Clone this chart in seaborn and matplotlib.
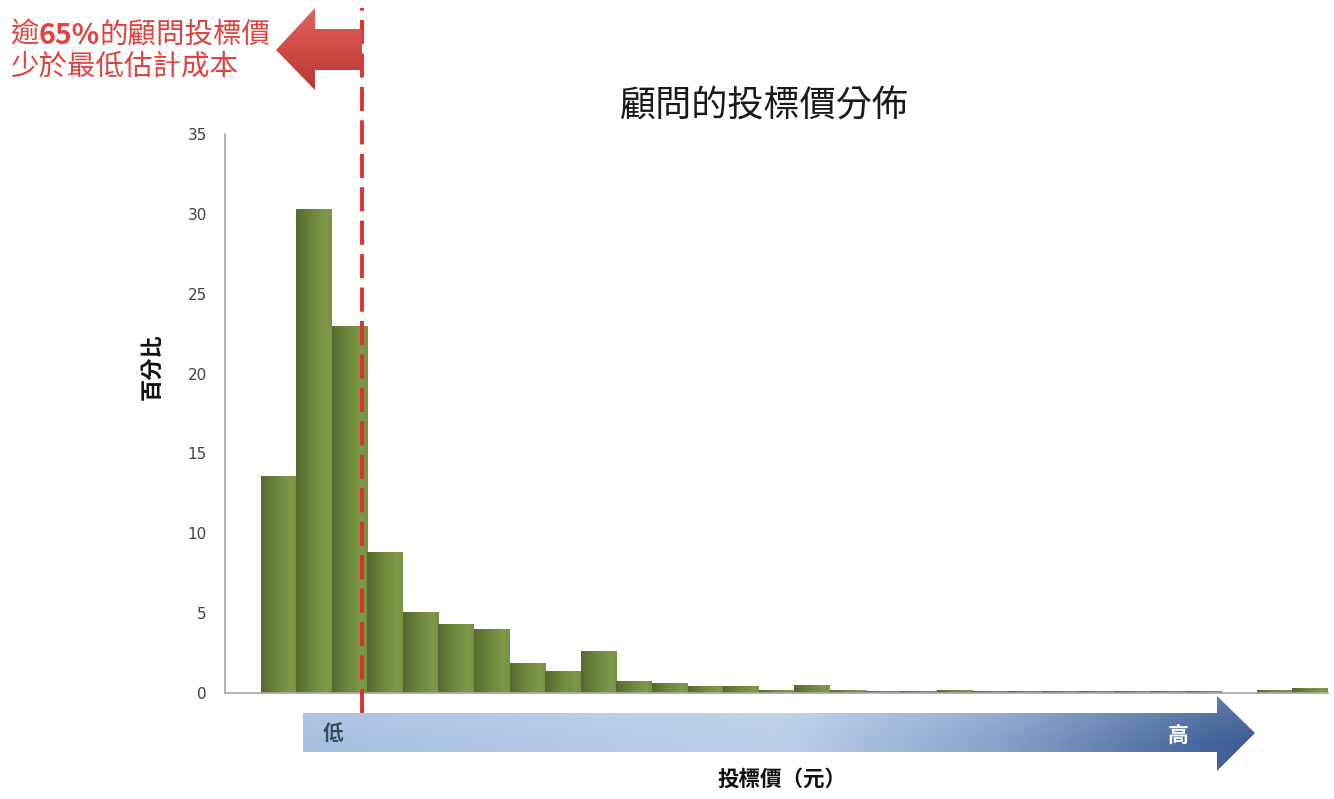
import numpy as np
import pandas as pd
import matplotlib
matplotlib.use("Agg")
import matplotlib.pyplot as plt
import seaborn as sns
from matplotlib.patches import Polygon
from matplotlib.colors import LinearSegmentedColormap
import matplotlib.transforms as mtransforms

# percent of consultants per bid-price bin (x axis has no price labels)
price_bin = list(range(31))
percent = [0, 13.6, 30.3, 23.0, 8.8, 5.1, 4.3, 4.0, 1.9, 1.35, 2.6,
           0.77, 0.6, 0.46, 0.46, 0.19, 0.48, 0.19, 0.1, 0.1, 0.19,
           0.1, 0.1, 0.1, 0.1, 0.1, 0.1, 0.1, 0, 0.2, 0.3]
y_ticks = [0, 5, 10, 15, 20, 25, 30, 35]
cutoff_bin = 3.35   # lowest estimated cost, in bin units

title = "顧問的投標價分佈"
note_parts = ["逾", "65%", "的顧問投標價"]
note_line2 = "少於最低估計成本"
low_txt, high_txt = "低", "高"

sns.set_style("white")
plt.rcParams["font.family"] = ["Noto Sans CJK TC", "DejaVu Sans"]

W, H = 1334, 799
fig = plt.figure(figsize=(W / 100, H / 100), dpi=100)
ax = fig.add_axes([225 / W, 106 / H, 1103 / W, 559 / H])

df = pd.DataFrame({"bin": price_bin, "percent": percent})
sns.barplot(data=df, x="bin", y="percent", color="#6c873b", width=1,
            errorbar=None, linewidth=0, ax=ax)

# green gradient inside each bar
bar_cmap = LinearSegmentedColormap.from_list(
    "bar", [(0, "#56692e"), (0.5, "#708b3f"), (0.85, "#7c9848"), (1, "#77923f")])
grad = np.linspace(0, 1, 64).reshape(1, -1)
for p in ax.patches:
    h = p.get_height()
    if h <= 0:
        continue
    x0 = p.get_x()
    p.set_zorder(2)
    im = ax.imshow(grad, cmap=bar_cmap, aspect="auto", zorder=2.5,
                   extent=[x0, x0 + p.get_width(), 0, h])
    im.set_clip_path(p)

ax.set_xlim(-0.5, len(price_bin) - 0.5)
ax.set_ylim(0, 35)
ax.set_yticks(y_ticks)
ax.set_xticks([])
ax.tick_params(axis="y", direction="out", length=6, width=1, color="#a6a6a6",
               labelcolor="#404040", labelsize=11, pad=7)
for lab in ax.get_yticklabels():
    lab.set_fontfamily("DejaVu Sans")
sns.despine(ax=ax)
for s in ["left", "bottom"]:
    ax.spines[s].set_color("#a6a6a6")
    ax.spines[s].set_linewidth(1.2)
    ax.spines[s].set_zorder(3)

ax.set_ylabel("百分比", fontsize=16, fontweight="bold", color="#111111")
ax.yaxis.set_label_coords(-0.056, 0.583)
ax.set_xlabel("投標價（元）", fontsize=15.5, fontweight="bold", color="#111111")
ax.xaxis.set_label_coords(0.505, -0.135)

# red dashed line for the lowest estimated cost
trans = mtransforms.blended_transform_factory(ax.transData, ax.transAxes)
ax.plot([cutoff_bin, cutoff_bin], [-0.036, 1.225], transform=trans,
        color="#e0302a", lw=2.8, dashes=(6.2, 2.4), clip_on=False, zorder=4)

# overlay in pixel coordinates for the arrows and notes
ov = fig.add_axes([0, 0, 1, 1], zorder=5)
ov.set_xlim(0, W)
ov.set_ylim(H, 0)
ov.axis("off")


def grad_poly(pts, colors, extent, horizontal=True, n=300):
    cmap = LinearSegmentedColormap.from_list("g", colors)
    t = np.linspace(0, 1, n)
    rgb = cmap(t)[:, :3]
    if horizontal:
        img = np.tile(rgb[None, :, :], (60, 1, 1))
        v = np.clip(np.linspace(0.16, -0.1, 60), 0, None)[:, None, None]
        img = img + (1 - img) * v
    else:
        img = np.tile(rgb[:, None, :], (1, 60, 1))
    poly = Polygon(pts, closed=True, facecolor="none", edgecolor="none")
    ov.add_patch(poly)
    im = ov.imshow(img, extent=extent, aspect="auto", interpolation="bilinear")
    im.set_clip_path(poly)


# blue low -> high arrow
blue_pts = [(303, 713), (1217, 713), (1217, 696), (1255, 733),
            (1217, 771), (1217, 752), (303, 752)]
grad_poly(blue_pts, [(0, "#a6bedf"), (0.5, "#bccfe9"), (0.73, "#88a3ca"),
                     (0.96, "#42649a"), (1, "#3d5e94")],
          [303, 1255, 771, 696])
ov.text(333, 734, low_txt, ha="center", va="center", fontsize=15,
        fontweight="bold", color="#3b4b5e")
ov.text(1178, 735, high_txt, ha="center", va="center", fontsize=15,
        fontweight="bold", color="white")

# red left arrow
red_pts = [(276, 50), (315, 8), (315, 29), (362, 29), (362, 70),
           (315, 70), (315, 90)]
grad_poly(red_pts, [(0, "#df6562"), (0.4, "#d34f4c"), (1, "#b83835")],
          [276, 362, 90, 8], horizontal=False)

# red note text
note_kw = dict(fontsize=20.5, color="#e2423d")
t1 = ov.text(10, 35, note_parts[0], ha="left", va="center", **note_kw)
t2 = ov.annotate(note_parts[1], xy=(1, 0), xycoords=t1, ha="left", va="bottom",
                 fontweight="bold", **note_kw)
ov.annotate(note_parts[2], xy=(1, 0), xycoords=t2, ha="left", va="bottom",
            **note_kw)
ov.text(10, 67, note_line2, ha="left", va="center", **note_kw)

ov.text(764, 107, title, ha="center", va="center", fontsize=26,
        color="#1a1a1a")

fig.savefig("out.png", dpi=100)
